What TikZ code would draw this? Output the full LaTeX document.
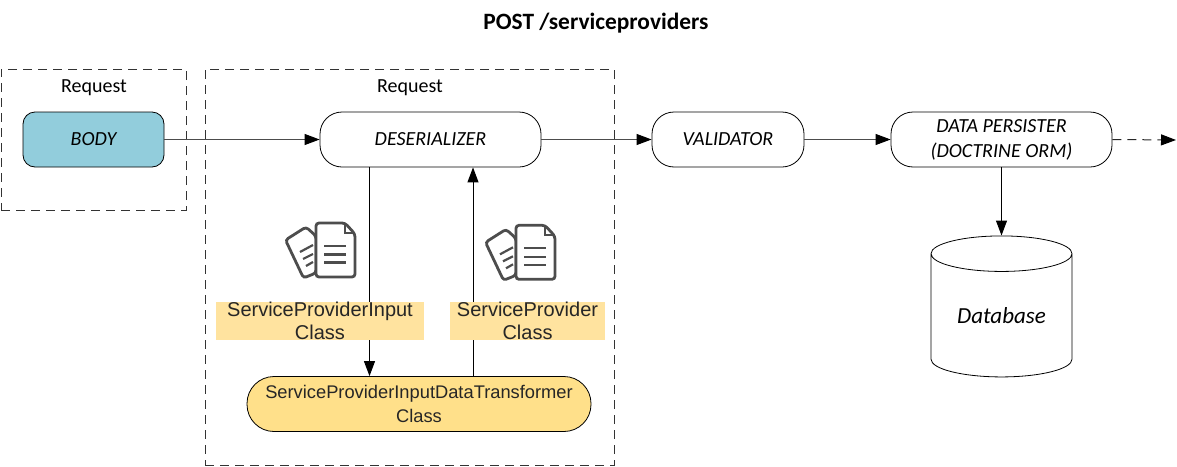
\documentclass[tikz,border=0pt]{standalone}
\usepackage{fontspec}
\setmainfont{Carlito}
\newfontfamily\arialfont{Liberation Sans}
\usetikzlibrary{arrows.meta,shapes.geometric}
\definecolor{bodyblue}{HTML}{92CDDC}
\definecolor{lblyellow}{HTML}{FFE39F}
\definecolor{trfyellow}{HTML}{FFE08A}
\definecolor{icongray}{HTML}{4D4D4D}
\tikzset{
  x=1pt,y=-1pt,
  proc/.style={draw=black,line width=0.8pt,rounded corners=22pt,minimum height=55pt,inner sep=0pt,align=center,font=\fontsize{20}{25}\selectfont\itshape,fill=white},
  frame/.style={draw=black!80,line width=1pt,dash pattern=on 9pt off 6pt},
  reqcap/.style={font=\fontsize{20}{24}\selectfont,inner sep=0pt},
  cls/.style={fill=lblyellow,inner sep=0pt,align=center,minimum height=38pt,text=black!85,font=\arialfont\fontsize{20}{23.5}\selectfont},
  flow/.style={draw=black,line width=1pt,-{Triangle[length=15pt,width=11pt]}},
  doc/.pic={
    \draw[icongray,line width=2.8pt,rounded corners=3pt,fill=white] (285.5,240) -- (306,227) -- (316,236) -- (316,273) -- (303.5,278) -- cycle;
    \draw[icongray,line width=2.2pt] (300,252) -- (313,245) (303,259) -- (313,254) (306,266) -- (313,262);
    \draw[icongray,line width=2.8pt,rounded corners=3pt,fill=white] (316,223) -- (345,223) -- (355,234) -- (355,277) -- (316,277) -- cycle;
    \draw[icongray,line width=2.2pt] (345,223) -- (345,233) -- (355,233);
    \draw[icongray,line width=2.2pt] (324,246) -- (346,246) (324,254.5) -- (346,254.5) (324,262.5) -- (346,262.5);
  }
}
\begin{document}
\begin{tikzpicture}
\useasboundingbox (0,0) rectangle (1177,466);
\node[font=\fontsize{23.4}{28}\selectfont\bfseries,inner sep=0pt] (title) at (596,23) {POST /serviceproviders};
\node[frame,minimum width=185pt,minimum height=141pt,inner sep=0pt] (reqa) at (93.5,139.5) {};
\node[frame,minimum width=409pt,minimum height=396pt,inner sep=0pt] (reqb) at (409.5,267) {};
\node[reqcap] (reqla) at (94,88) {Request};
\node[reqcap] (reqlb) at (410,88) {Request};
\node[proc,fill=bodyblue,rounded corners=12pt,minimum width=141pt] (body) at (93.5,139.5) {BODY};
\node[proc,minimum width=221pt] (des) at (430.5,139.5) {DESERIALIZER};
\node[proc,minimum width=152pt] (val) at (728,139.5) {VALIDATOR};
\node[proc,minimum width=221pt] (per) at (1001.5,139.5) {DATA PERSISTER\\(DOCTRINE ORM)};
\node[cylinder,draw=black,line width=0.8pt,shape border rotate=90,shape aspect=0.4,minimum width=141pt,minimum height=141pt,inner sep=0pt,font=\fontsize{23}{27}\selectfont\itshape] (db) at (1001.5,315.5) {Database};
\node[proc,fill=trfyellow,rounded corners=27pt,minimum width=344pt,font=\arialfont\fontsize{18.3}{23.5}\selectfont,text=black!85] (trf) at (419,404) {ServiceProviderInputDataTransformer\\Class};
\coordinate (end) at (1176,140);
\coordinate (downx) at (369.5,0);
\coordinate (upx) at (473,0);
\draw[flow,black!70,-{Triangle[length=15pt,width=11pt,black]}] (body.east) -- (des.west);
\draw[flow,black!70,-{Triangle[length=15pt,width=11pt,black]}] (des.east) -- (val.west);
\draw[flow,black!70,-{Triangle[length=15pt,width=11pt,black]}] (val.east) -- (per.west);
\draw[flow,black!85,dash pattern=on 9pt off 6pt,-{Triangle[length=15pt,width=11pt,black]}] (per.east) -- (end);
\draw[flow] (per.south) -- (db.north);
\draw[flow] (des.south -| downx) -- (trf.north -| downx);
\draw[flow] (trf.north -| upx) -- (des.south -| upx);
\node[cls,minimum width=208pt] (lbla) at (320,321) {ServiceProviderInput\\Class};
\node[cls,minimum width=155pt] (lblb) at (527.5,321) {ServiceProvider\\Class};
\pic at (0,0) {doc};
\pic at (200,2.3) {doc};
\end{tikzpicture}
\end{document}
